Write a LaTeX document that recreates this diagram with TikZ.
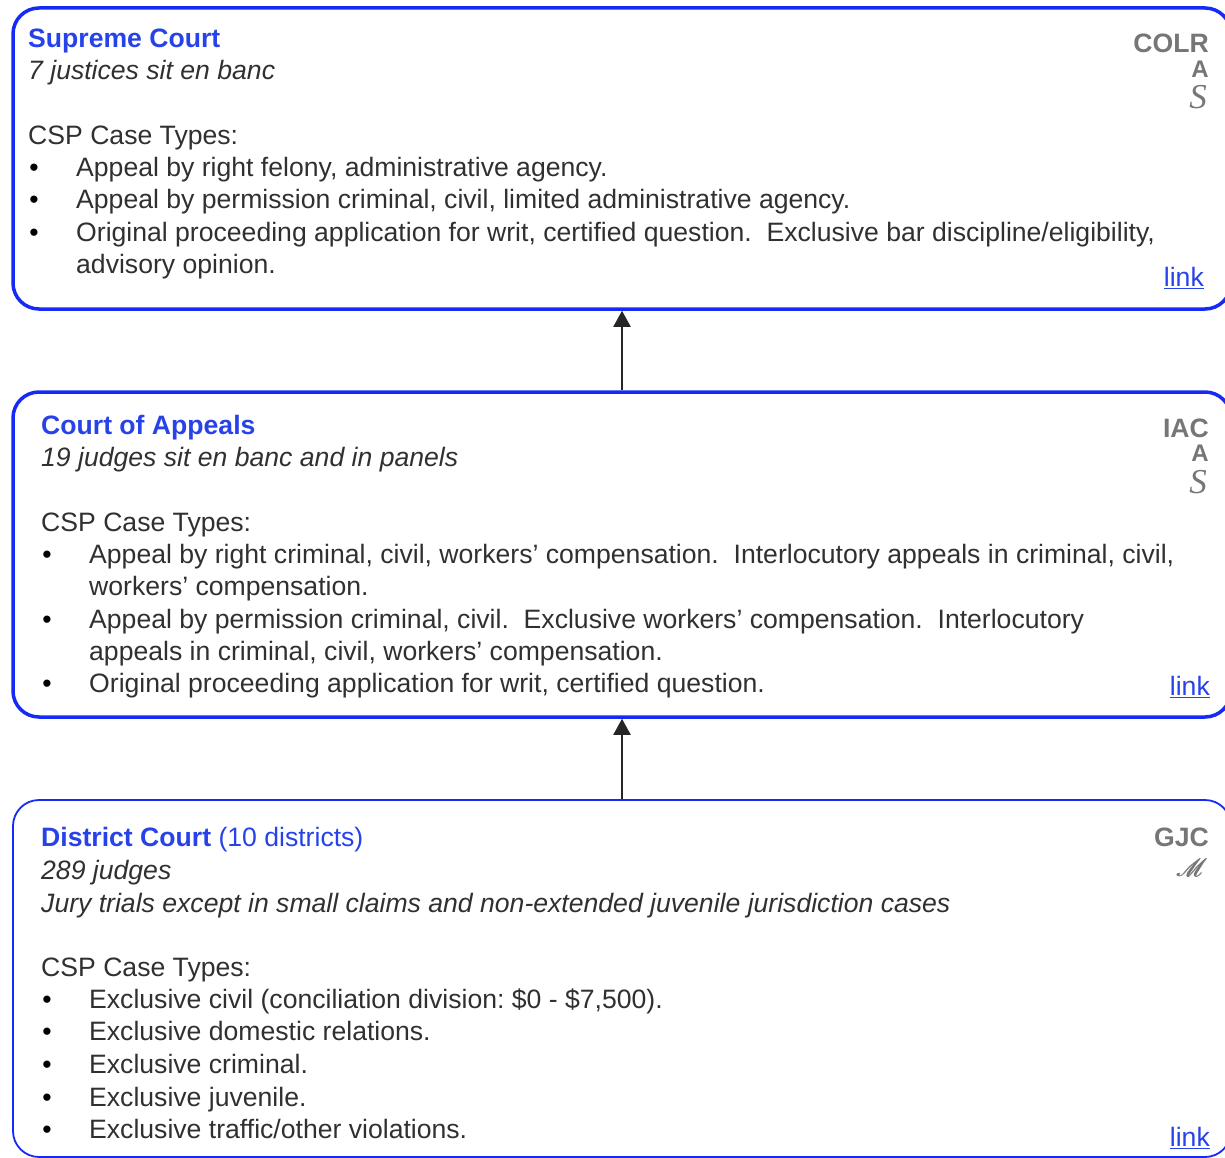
\documentclass[tikz,border=0pt]{standalone}
\usepackage{fontspec}
\setmainfont{Liberation Sans}
\newfontfamily\codeserif{Liberation Serif}
\usepackage{mathrsfs}
\usetikzlibrary{arrows.meta}

\definecolor{boxblue}{RGB}{22,42,245}
\definecolor{titleblue}{RGB}{38,66,232}
\definecolor{bodygray}{RGB}{48,48,48}
\definecolor{codegray}{RGB}{118,118,118}

\newcommand\bodysize{\fontsize{26.6}{32}\selectfont}
\newcommand\codesize{\fontsize{26.6}{32}\selectfont}
% heavier script letter, overprinted with small offsets
\newcommand\heavyscript[1]{\rlap{$\mathscr{#1}$}\kern0.6pt\rlap{$\mathscr{#1}$}\kern0.6pt$\mathscr{#1}$}

\tikzset{
  court/.style={draw=boxblue, line width=3.5pt, rounded corners=26pt,
    minimum width=1218pt, inner sep=0pt},
  courtthin/.style={court, line width=1.8pt},
  body/.style={anchor=base west, inner sep=0pt, text=bodygray, font=\bodysize},
  bodyit/.style={body, font=\bodysize\itshape},
  title/.style={body, text=titleblue},
  dot/.style={anchor=base, inner sep=0pt, text=black, font=\bodysize},
  weblink/.style={anchor=base east, inner sep=0pt, text=titleblue, font=\bodysize},
  code/.style={anchor=base east, inner sep=0pt, text=codegray, font=\codesize\bfseries},
  codesmall/.style={code, font=\fontsize{24}{28}\selectfont\bfseries},
  codescript/.style={anchor=base east, inner sep=0pt, text=codegray,
    font=\fontsize{35}{38}\selectfont\codeserif\itshape},
  appeal/.style={draw=black!85, line width=2pt,
    -{Triangle[length=16pt, width=17pt]}},
}

\begin{document}
\frenchspacing
\begin{tikzpicture}[x=1pt, y=-1pt]
\clip (0,0) rectangle (1225,1158);

% ---------- court boxes ----------
\node[court, minimum height=301pt] (sc) at (622,158.5) {};
\node[court, minimum height=325pt] (ca) at (622,554.5) {};
\node[courtthin, minimum height=357pt] (dc) at (622,978.5) {};

% ---------- appeal routes ----------
\draw[appeal] (ca.north) -- (sc.south);
\draw[appeal] (dc.north) -- (ca.north |- ca.south);

\begin{scope}[yshift=-1.5pt]
% ---------- Supreme Court ----------
\node[title] (sct) at (28,46) {\textbf{Supreme Court}};
\node[bodyit] (scj) at (28,78) {7 justices sit en banc};
\node[body] (scc) at (28,143) {CSP Case Types:};
\node[dot] (scb1) at (34,175) {•};
\node[body] (scl1) at (76,175) {Appeal by right felony, administrative agency.};
\node[dot] (scb2) at (34,207) {•};
\node[body] (scl2) at (76,207) {Appeal by permission criminal, civil, limited administrative agency.};
\node[dot] (scb3) at (34,240) {•};
\node[body] (scl3) at (76,240) {Original proceeding application for writ, certified question.\ \ Exclusive bar discipline/eligibility,};
\node[body] (scl4) at (76,272) {advisory opinion.};
\node[weblink] (sclink) at (1204,285) {\underline{link}};
\node[code] (scc1) at (1209,51) {COLR};
\node[codesmall] (scc2) at (1209,76) {A};
\node[codescript] (scc3) at (1207,107) {S};

% ---------- Court of Appeals ----------
\node[title] (cat) at (41,433) {\textbf{Court of Appeals}};
\node[bodyit] (caj) at (41,465) {19 judges sit en banc and in panels};
\node[body] (cac) at (41,530) {CSP Case Types:};
\node[dot] (cab1) at (47,562) {•};
\node[body] (cal1) at (89,562) {Appeal by right criminal, civil, workers’ compensation.\ \ Interlocutory appeals in criminal, civil,};
\node[body] (cal2) at (89,594) {workers’ compensation.};
\node[dot] (cab2) at (47,627) {•};
\node[body] (cal3) at (89,627) {Appeal by permission criminal, civil.\ \ Exclusive workers’ compensation.\ \ Interlocutory};
\node[body] (cal4) at (89,659) {appeals in criminal, civil, workers’ compensation.};
\node[dot] (cab3) at (47,691) {•};
\node[body] (cal5) at (89,691) {Original proceeding application for writ, certified question.};
\node[weblink] (calink) at (1210,694) {\underline{link}};
\node[code] (cac1) at (1209,436) {IAC};
\node[codesmall] (cac2) at (1209,460) {A};
\node[codescript] (cac3) at (1207,492) {S};

% ---------- District Court ----------
\node[title] (dct) at (41,845) {\textbf{District Court} (10 districts)};
\node[bodyit] (dcj) at (41,878) {289 judges};
\node[bodyit] (dcr) at (41,911) {Jury trials except in small claims and non-extended juvenile jurisdiction cases};
\node[body] (dcc) at (41,975) {CSP Case Types:};
\node[dot] (dcb1) at (47,1007) {•};
\node[body] (dcl1) at (89,1007) {Exclusive civil (conciliation division: \$0 - \$7,500).};
\node[dot] (dcb2) at (47,1039) {•};
\node[body] (dcl2) at (89,1039) {Exclusive domestic relations.};
\node[dot] (dcb3) at (47,1072) {•};
\node[body] (dcl3) at (89,1072) {Exclusive criminal.};
\node[dot] (dcb4) at (47,1105) {•};
\node[body] (dcl4) at (89,1105) {Exclusive juvenile.};
\node[dot] (dcb5) at (47,1137) {•};
\node[body] (dcl5) at (89,1137) {Exclusive traffic/other violations.};
\node[weblink] (dclink) at (1210,1145) {\underline{link}};
\node[code] (dcc1) at (1209,845) {GJC};
\node[anchor=base east, inner sep=0pt, text=codegray, font=\fontsize{31}{34}\selectfont] (dcc2) at (1208,875) {\heavyscript{M}};
\end{scope}
\end{tikzpicture}
\end{document}
